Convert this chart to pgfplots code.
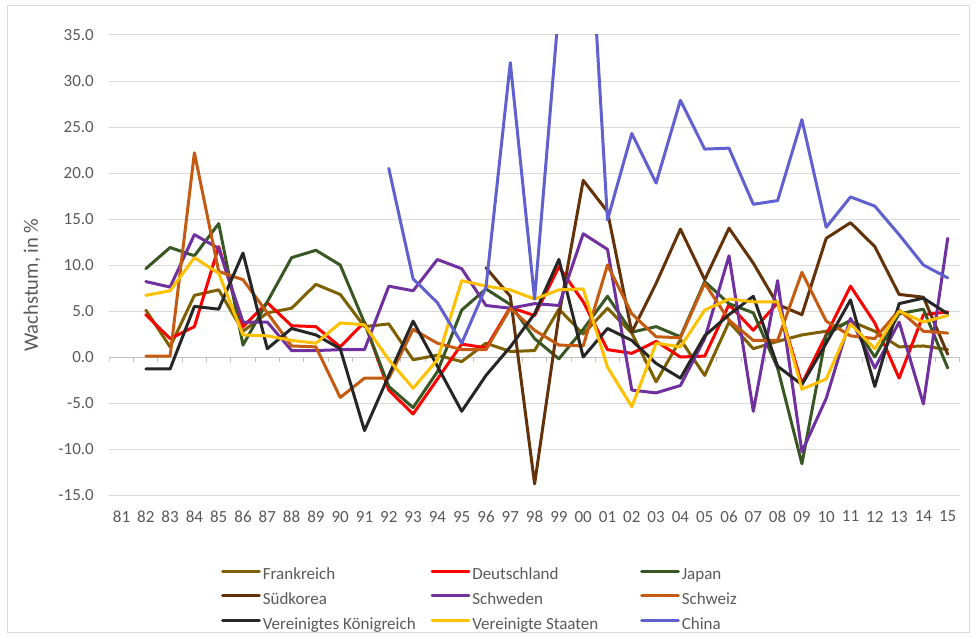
\documentclass[border=0pt]{standalone}
\usepackage{pgfplots}
\pgfplotsset{compat=1.18}
\usepackage{fontspec}
\setmainfont{Carlito}
\definecolor{cFR}{RGB}{127,96,0}
\definecolor{cDE}{RGB}{255,0,0}
\definecolor{cJP}{RGB}{56,87,35}
\definecolor{cKR}{RGB}{99,50,8}
\definecolor{cSE}{RGB}{112,48,160}
\definecolor{cCH}{RGB}{197,90,17}
\definecolor{cUK}{RGB}{38,38,38}
\definecolor{cUS}{RGB}{255,192,0}
\definecolor{cCN}{RGB}{96,96,208}
\definecolor{txt}{RGB}{89,89,89}
\definecolor{grd}{RGB}{217,217,217}
\definecolor{axc}{RGB}{191,191,191}
\newcommand{\lf}{\fontsize{17}{20}\selectfont}
\newcommand{\legtxt}[1]{\makebox[165.9pt][l]{#1}}
\begin{document}
\begin{tikzpicture}[x=1pt,y=1pt]
\useasboundingbox (0,0) rectangle (976,638);
\draw[grd, line width=1pt] (7,6) rectangle (969,632);
\node[rotate=90, text=txt, font=\fontsize{20.5}{24}\selectfont] at (32,353) {Wachstum, in \%};
\begin{axis}[
 at={(109.35pt,143pt)}, anchor=south west, scale only axis,
 width=850.5pt, height=460pt,
 xmin=-0.5, xmax=34.5, ymin=-15, ymax=35,
 axis line style={draw=none},
 ytick={-15,-10,...,35},
 ymajorgrids, grid style={grd, line width=1pt},
 major tick style={draw=none},
 xtick={0,...,34},
 xticklabels={81,82,83,84,85,86,87,88,89,90,91,92,93,94,95,96,97,98,99,00,01,02,03,04,05,06,07,08,09,10,11,12,13,14,15},
 tick label style={font=\lf, text=txt},
 xticklabel style={yshift=-12.5pt},
 yticklabel style={xshift=-12pt},
 scaled y ticks=false,
 /pgf/number format/fixed, /pgf/number format/fixed zerofill,
 /pgf/number format/precision=1, /pgf/number format/assume math mode=true,
 legend columns=3,
 legend cell align=left,
 legend style={at={(0.1313,-0.1574)}, anchor=north west, draw=none, fill=none,
   inner sep=0pt, font=\lf, text=txt, row sep=8.7pt, column sep=0pt,
   nodes={inner xsep=2pt, inner ysep=0pt, text height=12pt, text depth=4pt}},
 legend image code/.code={\draw[#1] (0pt,4.5pt) -- (36.6pt,4.5pt);},
 every axis plot/.append style={line width=3pt, line join=round, line cap=round},
]
\draw[axc, line width=1pt] (axis cs:-0.5,0) -- (axis cs:34.5,0);
\pgfplotsinvokeforeach{-0.5,0.5,...,34.5}{\draw[axc, line width=1pt] (axis cs:#1,0) -- ++(0pt,-5pt);}
\addplot[cFR] coordinates {(1,5.1)(2,1.1)(3,6.7)(4,7.3)(5,2.8)(6,4.8)(7,5.3)(8,7.9)(9,6.8)(10,3.3)(11,3.6)(12,-0.3)(13,0.2)(14,-0.5)(15,1.5)(16,0.6)(17,0.7)(18,5.2)(19,2.5)(20,5.3)(21,2.6)(22,-2.7)(23,1.9)(24,-2.0)(25,3.8)(26,0.9)(27,1.7)(28,2.4)(29,2.8)(30,3.9)(31,2.8)(32,1.1)(33,1.2)(34,0.8)};
\addlegendentry{\legtxt{Frankreich}}
\addplot[cDE] coordinates {(1,4.6)(2,2.0)(3,3.3)(4,12.0)(5,3.3)(6,5.9)(7,3.4)(8,3.3)(9,1.1)(10,3.8)(11,-3.6)(12,-6.2)(13,-2.4)(14,1.4)(15,1.0)(16,5.4)(17,4.5)(18,9.8)(19,6.0)(20,0.8)(21,0.4)(22,1.7)(23,0.0)(24,0.1)(25,5.7)(26,2.9)(27,5.9)(28,-2.9)(29,2.4)(30,7.7)(31,3.7)(32,-2.3)(33,4.6)(34,4.9)};
\addlegendentry{\legtxt{Deutschland}}
\addplot[cJP] coordinates {(1,9.6)(2,11.9)(3,11.0)(4,14.5)(5,1.3)(6,6.0)(7,10.8)(8,11.6)(9,10.0)(10,3.7)(11,-3.2)(12,-5.5)(13,-1.6)(14,5.1)(15,7.4)(16,5.7)(17,2.0)(18,-0.2)(19,3.0)(20,6.6)(21,2.7)(22,3.3)(23,2.2)(24,8.2)(25,5.8)(26,4.8)(27,-1.2)(28,-11.6)(29,2.4)(30,4.0)(31,0.0)(32,4.7)(33,5.2)(34,-1.2)};
\addlegendentry{\legtxt{Japan}}
\addplot[cKR] coordinates {(15,9.7)(16,6.6)(17,-13.8)(18,4.5)(19,19.2)(20,15.8)(21,2.7)(22,8.0)(23,13.9)(24,8.4)(25,14.0)(26,10.2)(27,5.7)(28,4.6)(29,12.9)(30,14.6)(31,12.0)(32,6.8)(33,6.5)(34,0.3)};
\addlegendentry{\legtxt{Südkorea}}
\addplot[cSE] coordinates {(1,8.2)(2,7.6)(3,13.3)(4,11.8)(5,3.8)(6,3.8)(7,0.7)(8,0.7)(9,0.8)(10,0.8)(11,7.7)(12,7.2)(13,10.6)(14,9.6)(15,5.6)(16,5.3)(17,5.8)(18,5.6)(19,13.4)(20,11.7)(21,-3.6)(22,-3.9)(23,-3.1)(24,2.0)(25,11.0)(26,-5.9)(27,8.3)(28,-10.3)(29,-4.5)(30,4.2)(31,-1.2)(32,3.8)(33,-5.1)(34,12.9)};
\addlegendentry{\legtxt{Schweden}}
\addplot[cCH] coordinates {(1,0.1)(2,0.1)(3,22.2)(4,9.3)(5,8.4)(6,4.8)(7,1.2)(8,1.1)(9,-4.4)(10,-2.3)(11,-2.3)(12,3.0)(13,1.5)(14,0.8)(15,0.8)(16,5.3)(17,2.9)(18,1.3)(19,1.2)(20,10.0)(21,4.7)(22,2.2)(23,2.1)(24,8.0)(25,4.0)(26,1.8)(27,1.8)(28,9.2)(29,3.9)(30,2.3)(31,2.0)(32,5.1)(33,2.8)(34,2.6)};
\addlegendentry{\legtxt{Schweiz}}
\addplot[cUK] coordinates {(1,-1.3)(2,-1.3)(3,5.5)(4,5.2)(5,11.3)(6,0.9)(7,3.1)(8,2.4)(9,0.9)(10,-8.0)(11,-2.0)(12,3.9)(13,-1.0)(14,-5.9)(15,-2.0)(16,1.1)(17,4.7)(18,10.6)(19,0.0)(20,3.1)(21,1.8)(22,-0.7)(23,-2.3)(24,2.3)(25,4.6)(26,6.6)(27,-1.0)(28,-3.0)(29,1.5)(30,6.2)(31,-3.2)(32,5.8)(33,6.4)(34,4.7)};
\addlegendentry{\legtxt{Vereinigtes Königreich}}
\addplot[cUS] coordinates {(1,6.7)(2,7.2)(3,10.8)(4,9.1)(5,2.4)(6,2.3)(7,1.8)(8,1.5)(9,3.7)(10,3.5)(11,-0.3)(12,-3.4)(13,-0.3)(14,8.3)(15,7.7)(16,7.3)(17,6.3)(18,7.3)(19,7.4)(20,-1.1)(21,-5.4)(22,1.5)(23,1.1)(24,5.1)(25,6.3)(26,6.0)(27,6.0)(28,-3.5)(29,-2.4)(30,3.6)(31,0.9)(32,5.0)(33,3.8)(34,4.5)};
\addlegendentry{\legtxt{Vereinigte Staaten}}
\addplot[cCN] coordinates {(11,20.5)(12,8.5)(13,5.9)(14,1.5)(15,7.6)(16,32.0)(17,6.3)(18,38.0)(19,60.0)(20,14.9)(21,24.3)(22,18.9)(23,27.9)(24,22.6)(25,22.7)(26,16.6)(27,17.0)(28,25.8)(29,14.1)(30,17.4)(31,16.4)(32,13.3)(33,10.0)(34,8.6)};
\addlegendentry{\legtxt{China}}
\end{axis}
\end{tikzpicture}
\end{document}
